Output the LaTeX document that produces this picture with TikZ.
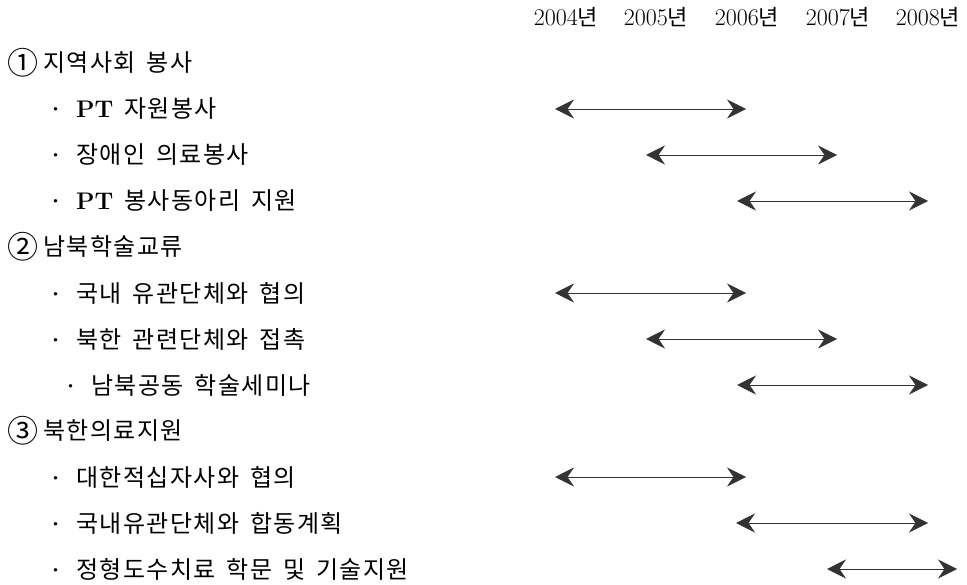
\documentclass[tikz,border=0pt]{standalone}
\usepackage{fontspec}
\newfontfamily\kr[LetterSpace=6,WordSpace=1.6]{Noto Sans CJK KR}
\usetikzlibrary{arrows.meta}
\newcommand{\lat}[1]{{\rmfamily\bfseries #1}}
\newcommand{\kreis}[1]{\raisebox{-3pt}{\fontsize{31}{31}\selectfont #1}\hspace{5pt}}
\newcommand{\pkt}{{\rmfamily\bfseries ·}\hspace{10pt}}
\tikzset{
  jahr/.style={inner sep=0pt, font=\fontsize{24}{24}\selectfont},
  punkt/.style={anchor=west, inner sep=0pt, font=\kr\fontsize{24}{24}\selectfont},
  spanne/.style={>={Stealth[length=19pt,width=19pt,inset=6.5pt]}, <->,
    draw=black!80, line width=0.8pt},
}
\begin{document}
\begin{tikzpicture}[x=1pt,y=-1pt]
\useasboundingbox (0,0) rectangle (967,585);
%Zeilenabstand in Pixel, erste Zeile bei 63
  \pgfmathsetmacro{\zeile}{46}
  \pgfmathsetmacro{\oben}{63}
\foreach \yr/\cx in {2004/566,2005/656,2006/747,2007/838,2008/928}{
\node[jahr] (j\yr) at (\cx,17) {\yr{\kr\fontsize{22}{22}\selectfont 년}};
}
\node[punkt] (t1) at (7,63) {\kreis{①}지역사회 봉사};
\node[punkt] (t2) at (45,109) {\pkt\lat{PT} 자원봉사};
\node[punkt] (t3) at (45,155) {\pkt 장애인 의료봉사};
\node[punkt] (t4) at (45,201) {\pkt\lat{PT} 봉사동아리 지원};
\node[punkt] (t5) at (7,247) {\kreis{②}남북학술교류};
\node[punkt] (t6) at (45,293) {\pkt 국내 유관단체와 협의};
\node[punkt] (t7) at (45,339) {\pkt 북한 관련단체와 접촉};
\node[punkt] (t8) at (60,385) {\pkt 남북공동 학술세미나};
\node[punkt] (t9) at (7,431) {\kreis{③}북한의료지원};
\node[punkt] (t10) at (45,477) {\pkt 대한적십자사와 협의};
\node[punkt] (t11) at (45,523) {\pkt 국내유관단체와 합동계획};
\node[punkt] (t12) at (45,569) {\pkt 정형도수치료 학문 및 기술지원};
\foreach \k/\xa/\xb in {2/555/746,3/646/837,4/737/928,6/555/746,7/646/837,8/737/928,10/555/746,11/736/928,12/827/957}{
  \pgfmathsetmacro{\yk}{\oben+\zeile*(\k-1)}
  \coordinate (a\k) at (\xa,\yk);
  \coordinate (b\k) at (\xb,\yk);
  \draw[spanne] (a\k) -- (b\k);
}
\end{tikzpicture}
\end{document}
